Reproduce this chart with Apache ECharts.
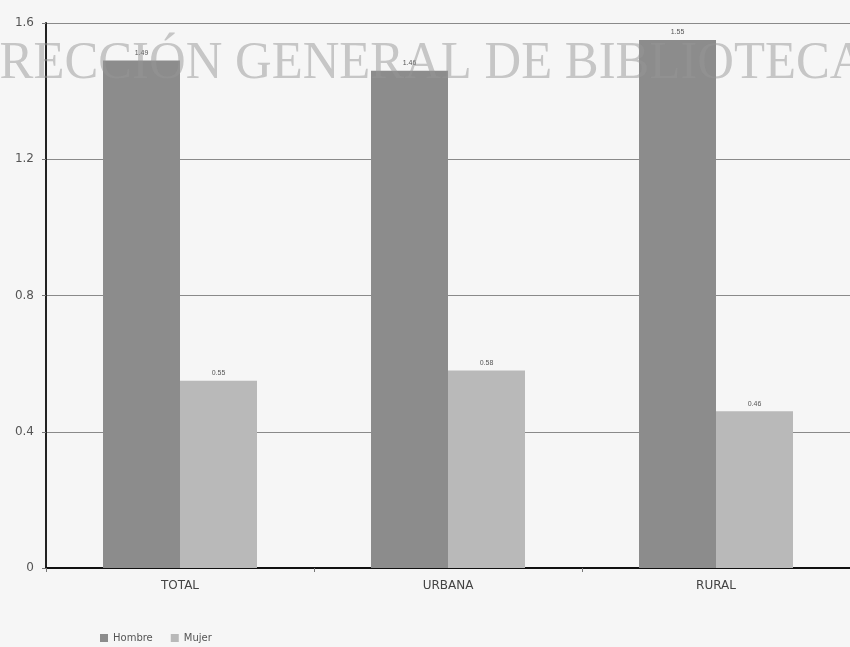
<!DOCTYPE html>
<html><head><meta charset="utf-8">
<script src="https://cdn.jsdelivr.net/npm/echarts@6/dist/echarts.min.js"></script>
<style>html,body{margin:0;padding:0;background:#f6f6f6}#c{width:850px;height:647px}</style>
</head><body><div id="c"></div>
<script>
const categories = ['TOTAL', 'URBANA', 'RURAL'];
const hombre = [1.49, 1.46, 1.55];
const mujer = [0.55, 0.58, 0.46];
const yTicks = [0, 0.4, 0.8, 1.2, 1.6];

const chart = echarts.init(document.getElementById('c'));
chart.setOption({
  backgroundColor: '#f6f6f6',
  animation: false,
  graphic: [{
    type: 'text', x: -54, y: 38, scaleX: 0.976, scaleY: 1, originX: 0, originY: 0, z: 100,
    style: { text: 'DIRECCIÓN GENERAL DE BIBLIOTECAS', font: '52px "Liberation Serif"', fill: 'rgba(150,150,150,0.5)', textVerticalAlign: 'top' }
  }],
  legend: {
    left: 95, top: 628, itemWidth: 8, itemHeight: 8, itemGap: 18, icon: 'rect',
    textStyle: { fontSize: 10, color: '#555', fontFamily: 'DejaVu Sans' },
    data: ['Hombre', 'Mujer']
  },
  grid: { left: 46, top: 23, width: 810, height: 545 },
  xAxis: {
    type: 'category', data: categories,
    axisLine: { lineStyle: { color: '#111', width: 2 } },
    axisTick: { show: true, lineStyle: { color: '#777' }, length: 4 },
    axisLabel: { fontSize: 12, color: '#444', fontFamily: 'DejaVu Sans', margin: 12 }
  },
  yAxis: {
    type: 'value', min: 0, max: 1.6, interval: 0.4,
    axisLine: { show: true, lineStyle: { color: '#222', width: 2 } },
    axisTick: { show: true, lineStyle: { color: '#777' }, length: 4 },
    axisLabel: { fontSize: 12, color: '#555', fontFamily: 'DejaVu Sans', margin: 12,
      formatter: v => yTicks.includes(+v.toFixed(1)) ? String(+v.toFixed(1)) : '' },
    splitLine: { lineStyle: { color: '#8a8a8a', width: 1 } }
  },
  series: [
    { name: 'Hombre', type: 'bar', data: hombre, barWidth: 77, barGap: '0%',
      itemStyle: { color: '#8c8c8c' },
      label: { show: true, position: 'top', fontSize: 7, color: '#555', distance: 4 } },
    { name: 'Mujer', type: 'bar', data: mujer, barWidth: 77,
      itemStyle: { color: '#b9b9b9' },
      label: { show: true, position: 'top', fontSize: 7, color: '#555', distance: 4 } }
  ]
});
</script></body></html>
